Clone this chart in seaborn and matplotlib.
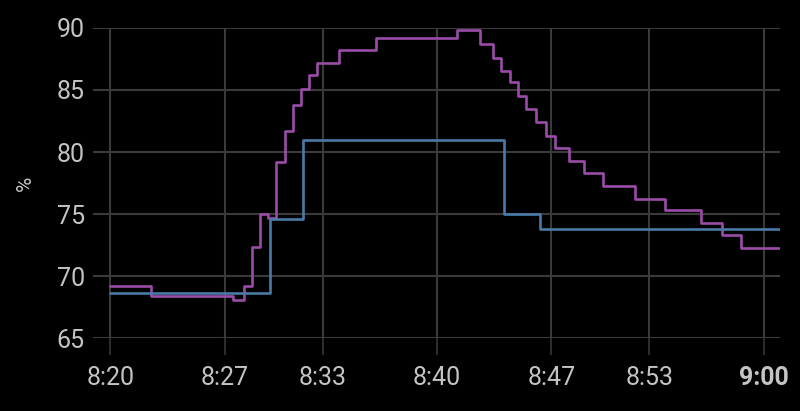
import matplotlib
matplotlib.use("Agg")
import matplotlib.pyplot as plt
import seaborn as sns
import pandas as pd

# purple series (step changes, value holds until next time)
purple_times = ["08:20:00", "08:22:30", "08:27:30", "08:28:10", "08:28:40", "08:29:10",
                "08:29:40", "08:30:10", "08:30:40", "08:31:10", "08:31:40", "08:32:10",
                "08:32:40", "08:34:00", "08:36:15", "08:41:13", "08:42:36", "08:43:26",
                "08:43:56", "08:44:29", "08:44:58", "08:45:28", "08:46:05", "08:46:40",
                "08:47:13", "08:48:05", "08:48:59", "08:50:10", "08:52:06", "08:53:59",
                "08:56:08", "08:57:27", "08:58:38", "09:01:00"]
purple_values = [69.2, 68.4, 68.1, 69.2, 72.4, 75.0,
                 74.7, 79.2, 81.7, 83.8, 85.1, 86.2,
                 87.2, 88.2, 89.2, 89.8, 88.7, 87.6,
                 86.5, 85.6, 84.5, 83.5, 82.4, 81.3,
                 80.3, 79.3, 78.3, 77.3, 76.25, 75.3,
                 74.3, 73.3, 72.3, 72.3]

# blue series
blue_times = ["08:20:00", "08:29:46", "08:31:48", "08:44:06", "08:46:20", "09:01:00"]
blue_values = [68.7, 74.65, 81.0, 75.0, 73.8, 73.8]

tick_times = ["08:20", "08:27", "08:33", "08:40", "08:47", "08:53", "09:00"]
tick_labels = ["8:20", "8:27", "8:33", "8:40", "8:47", "8:53", "9:00"]
y_ticks = [65, 70, 75, 80, 85, 90]

day = "2024-01-01 "
purple_df = pd.DataFrame({"time": pd.to_datetime([day + t for t in purple_times]),
                          "value": purple_values})
blue_df = pd.DataFrame({"time": pd.to_datetime([day + t for t in blue_times]),
                        "value": blue_values})

sns.set_theme(style="dark")
plt.rcParams["font.family"] = ["Roboto", "DejaVu Sans"]

text_color = "#c4c4c4"
grid_color = "#3a3a3a"

fig = plt.figure(figsize=(8, 4.11), dpi=100, facecolor="black")
ax = fig.add_axes([0.11625, 0.1764, 0.85875, 0.7562])
ax.set_facecolor("black")

sns.lineplot(data=purple_df, x="time", y="value", ax=ax, color="#9b4ca9",
             linewidth=1.9, drawstyle="steps-post", zorder=3)
sns.lineplot(data=blue_df, x="time", y="value", ax=ax, color="#4a7aa8",
             linewidth=1.9, drawstyle="steps-post", zorder=4)

ax.set_xlim(pd.Timestamp(day + "08:18:56"), pd.Timestamp(day + "09:01:00"))
ax.set_ylim(65, 90)

ax.set_xticks(pd.to_datetime([day + t for t in tick_times]))
ax.set_xticklabels(tick_labels)
ax.set_yticks(y_ticks)
ax.set_yticklabels([str(v) for v in y_ticks])
ax.get_xticklabels()[-1].set_fontweight("bold")

ax.grid(True, color=grid_color, linewidth=1.5)
ax.tick_params(axis="x", length=12.5, width=1.1, color=grid_color, colors=text_color,
               labelsize=18, pad=7, bottom=True)
ax.tick_params(axis="x", color=grid_color)
ax.tick_params(axis="y", length=0, colors=text_color, labelsize=18, pad=6)
for s in ax.spines.values():
    s.set_visible(False)

ax.set_xlabel("")
ax.set_ylabel("%", color=text_color, fontsize=15)
ax.yaxis.set_label_coords(-0.084, 0.5)

plt.savefig("out.png", dpi=100, facecolor="black")
